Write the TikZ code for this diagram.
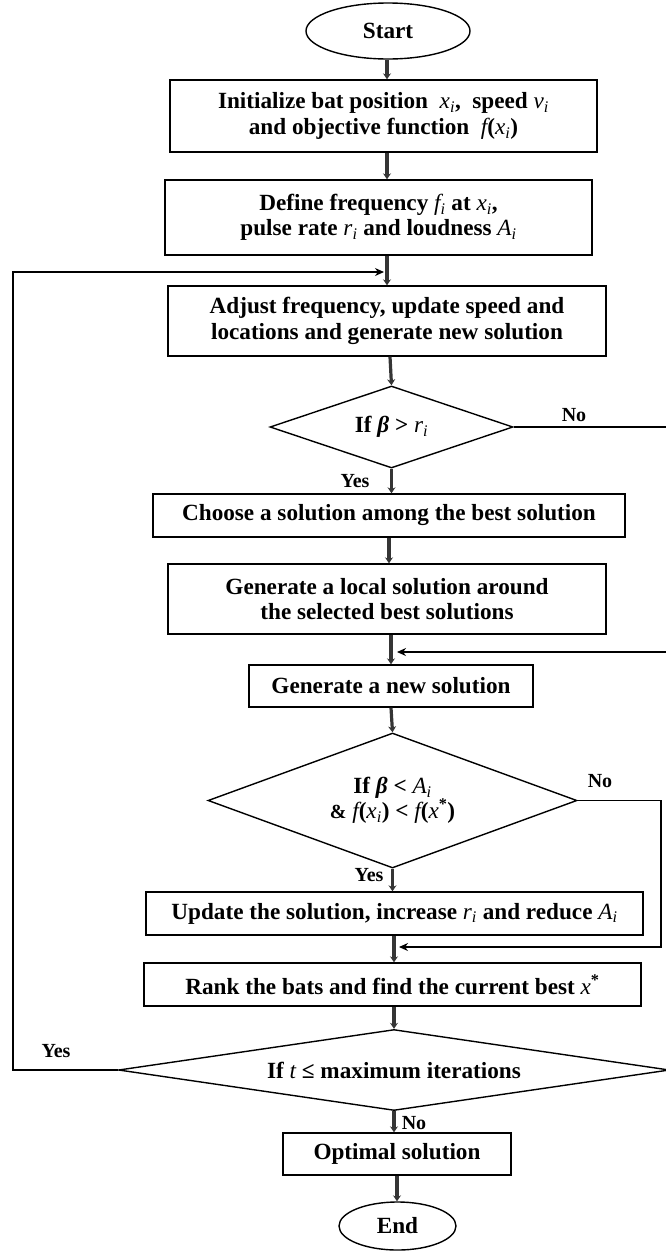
\documentclass[tikz,border=0pt]{standalone}
\usepackage{fontspec}
\setmainfont{Liberation Serif}
\usetikzlibrary{shapes.geometric,arrows.meta}
\definecolor{arrgray}{HTML}{353535}
\newcommand{\mv}[1]{{\mdseries\itshape #1}}
\newcommand{\msb}[2]{\mv{#1}\textsubscript{\mv{#2}}}
\begin{document}
\begin{tikzpicture}[x=1pt,y=-1pt,
  txt/.style={font=\fontsize{23.2}{25.5}\selectfont\bfseries, align=center, inner sep=0pt},
  box/.style={txt, draw=black, line width=1.4pt, rectangle},
  term/.style={txt, draw=black, line width=1.4pt, ellipse},
  dec/.style={txt, draw=black, line width=1.4pt, diamond},
  lbl/.style={font=\fontsize{20}{24}\selectfont\bfseries, inner sep=0pt},
  arr/.style={draw=arrgray, line width=3.2pt, -{Stealth[length=6pt,width=8pt]}},
  loop/.style={draw=black, line width=1.4pt},
  looparr/.style={loop, -{Stealth[length=9pt,width=8pt]}}
]
\useasboundingbox (0,0) rectangle (665,1251);
\node[term, minimum width=164pt, minimum height=56pt] (start) at (388,31) {Start};
\node[box, minimum width=427pt, minimum height=72pt] (init) at (383.5,116)
  {Initialize bat position \ \msb{x}{i}, \ speed \msb{v}{i}\\and objective function \ \mv{f}(\msb{x}{i})};
\node[box, minimum width=427pt, minimum height=75pt] (define) at (378.5,217.5)
  {Define frequency \msb{f}{i} at \msb{x}{i},\\pulse rate \msb{r}{i} and loudness \msb{A}{i}};
\node[box, minimum width=438pt, minimum height=70pt] (adjust) at (387,321)
  {Adjust frequency, update speed and\\locations and generate new solution};
\node[dec, minimum width=243pt, minimum height=82pt, shape aspect=3] (d1) at (391.5,427)
  {If \textit{β} > \msb{r}{i}};
\node[box, minimum width=472pt, minimum height=43pt] (choose) at (389,515.5)
  {Choose a solution among the best solution};
\node[box, minimum width=438pt, minimum height=70pt] (local) at (387,599)
  {Generate a local solution around\\the selected best solutions};
\node[box, minimum width=284pt, minimum height=42pt] (newsol) at (391,686)
  {Generate a new solution};
\node[dec, minimum width=369pt, minimum height=135pt, shape aspect=2.7] (d2) at (392.5,800.5)
  {If \textit{β} < \msb{A}{i}\\{\fontsize{20}{24}\selectfont\&} \mv{f}(\msb{x}{i}) < \mv{f}(\mv{x}\textsuperscript{*})};
\node[box, minimum width=497pt, minimum height=43pt] (update) at (394.5,913.5)
  {Update the solution, increase \msb{r}{i} and reduce \msb{A}{i}};
\node[box, minimum width=497pt, minimum height=43pt] (rank) at (392.5,984.5)
  {Rank the bats and find the current best \mv{x}\textsuperscript{*}};
\node[dec, minimum width=551pt, minimum height=81pt, shape aspect=6.8] (d3) at (394,1070)
  {If \mv{t} ≤ maximum iterations};
\node[box, minimum width=228pt, minimum height=42pt] (optimal) at (397,1154)
  {Optimal solution};
\node[term, minimum width=117pt, minimum height=48pt] (end) at (397.5,1226) {End};

% labels
\node[lbl] (no1) at (574,415) {No};
\node[lbl] (yes1) at (355,481) {Yes};
\node[lbl] (no2) at (600,781) {No};
\node[lbl] (yes2) at (369,875) {Yes};
\node[lbl] (yes3) at (56,1051) {Yes};
\node[lbl] (no3) at (414,1123) {No};

% vertical flow
\draw[arr] (start.south -| 387,0) -- (387,0 |- init.north);
\draw[arr] (387,0 |- init.south) -- (387,0 |- define.north);
\draw[arr] (387,0 |- define.south) -- (387,0 |- adjust.north);
\draw[arr] (390,0 |- adjust.south) -- (d1.north);
\draw[arr] (d1.south) -- (d1.south |- choose.north);
\draw[arr] (389,0 |- choose.south) -- (389,0 |- local.north);
\draw[arr] (391,0 |- local.south) -- (newsol.north);
\draw[arr] (newsol.south) -- (d2.north);
\draw[arr] (d2.south) -- (d2.south |- update.north);
\draw[arr] (394,0 |- update.south) -- (394,0 |- rank.north);
\draw[arr] (394,0 |- rank.south) -- (d3.north);
\draw[arr] (d3.south) -- (d3.south |- optimal.north);
\draw[arr] (optimal.south) -- (optimal.south |- end.north);

% loops
\coordinate (lpA) at (13,272);
\coordinate (lpTip) at (384,272);
\draw[looparr] (d3.west) -- (d3.west -| lpA) -- (lpA) -- (lpTip);
\coordinate (r1) at (669,652);
\coordinate (r1Tip) at (397,652);
\draw[looparr] (d1.east) -- (d1.east -| r1) -- (r1) -- (r1Tip);
\coordinate (r2) at (661,947);
\coordinate (r2Tip) at (399,947);
\draw[looparr] (d2.east) -- (d2.east -| r2) -- (r2) -- (r2Tip);
\end{tikzpicture}
\end{document}
